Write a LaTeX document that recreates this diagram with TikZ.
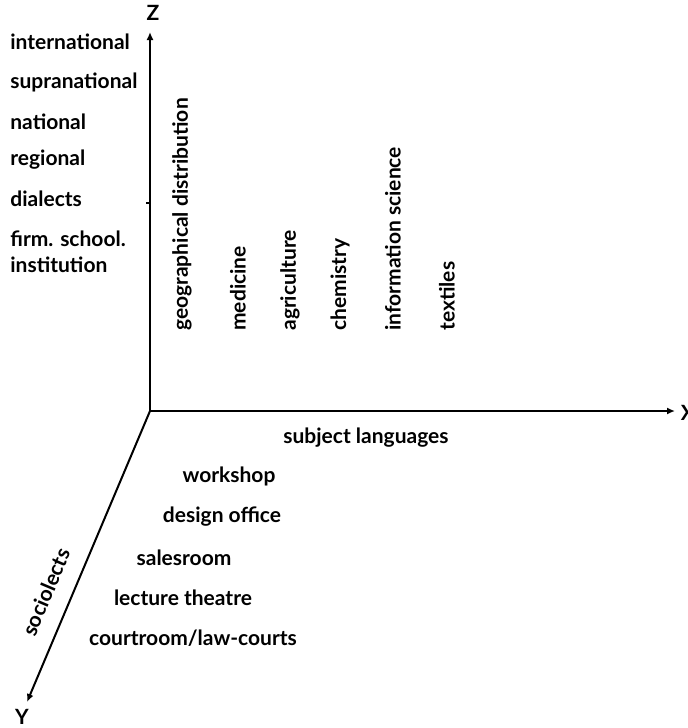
\documentclass[tikz,border=0pt]{standalone}
\usepackage{fontspec}
\setmainfont{Lato}
\usetikzlibrary{arrows.meta}
\begin{document}
\begin{tikzpicture}[x=0.5pt,y=-0.5pt,
  lbl/.style={font=\bfseries\fontsize{10.5}{12}\selectfont, inner sep=0pt},
  lleft/.style={lbl, anchor=west},
  vert/.style={lbl, rotate=90, anchor=west},
  axis/.style={line width=1pt},
  tip/.style={-{Latex[length=4pt,width=3.5pt]}}]
\useasboundingbox (0,0) rectangle (687,728);
\coordinate (O) at (150,411);
\coordinate (zt) at (150,32);
\coordinate (xt) at (675,411);
\coordinate (yt) at (27,702);
\draw[axis,tip] (O) -- (zt);
\draw[axis,tip] (O) -- (xt);
\draw[axis,tip] (O) -- (yt);
\coordinate (tk1) at (150,203);
\coordinate (tk2) at (146,203);
\draw[line width=0.6pt] (tk1) -- (tk2);
\node[lbl] (Z) at (153,13) {Z};
\node[lbl] (X) at (688,413) {X};
\node[lbl] (Y) at (22,717) {Y};
% Z-axis levels
\node[lleft] (int) at (10,42) {international};
\node[lleft] (supra) at (10,82) {supranational};
\node[lleft] (nat) at (10,122) {national};
\node[lleft] (reg) at (10,160) {regional};
\node[lleft] (dia) at (10,199) {dialects};
\node[lleft, align=left] (firm) at (10,252) {firm. school.\\[1pt]institution};
% subject fields
\node[vert] (geo) at (182,331) {geographical distribution};
\node[vert] (med) at (238,331) {medicine};
\node[vert] (agr) at (290,331) {agriculture};
\node[vert] (che) at (340,331) {chemistry};
\node[vert] (inf) at (393,331) {information science};
\node[vert] (tex) at (447,331) {textiles};
\node[lbl] (subj) at (366,438) {subject languages};
% sociolects
\node[lbl, rotate=67] (soc) at (46,592) {sociolects};
\node[lbl] (ws) at (229,476) {workshop};
\node[lbl] (des) at (222,517) {design office};
\node[lbl] (sal) at (184,558) {salesroom};
\node[lbl] (lec) at (183,598) {lecture theatre};
\node[lbl] (crt) at (193,638) {courtroom/law-courts};
\end{tikzpicture}
\end{document}
